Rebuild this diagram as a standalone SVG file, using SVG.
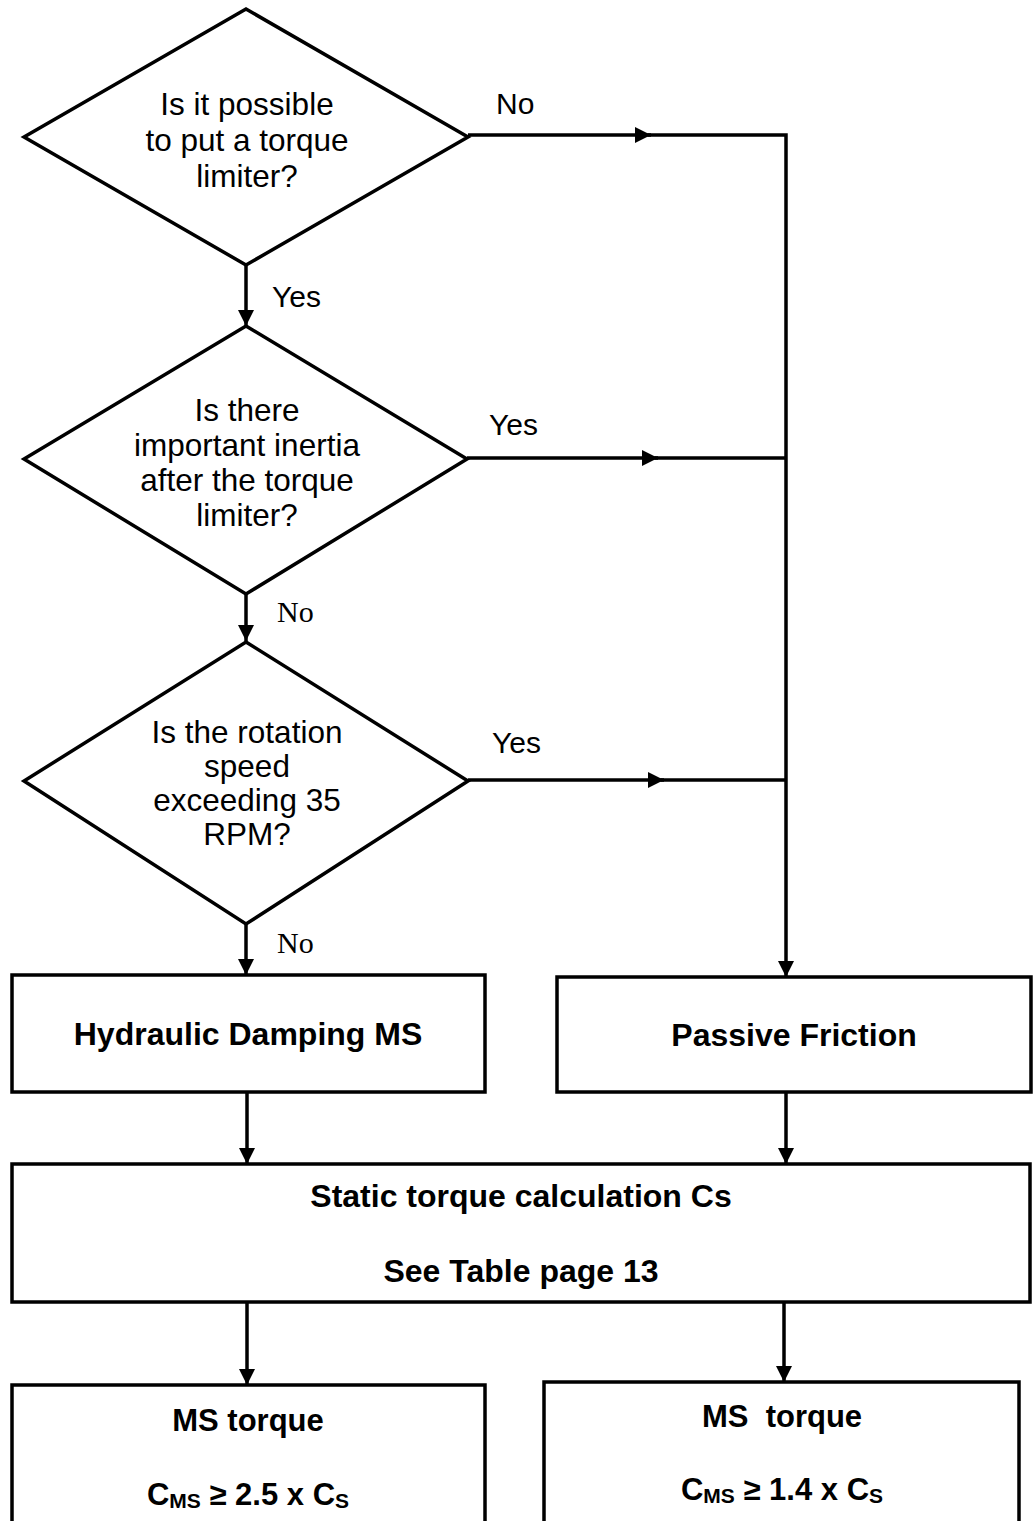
<svg xmlns="http://www.w3.org/2000/svg" width="1033" height="1521" viewBox="0 0 1033 1521">
<style>
.shape{fill:#fff;stroke:#000;stroke-width:3.5;stroke-linejoin:miter}
.conn{fill:none;stroke:#000;stroke-width:3.5}
.q{font-family:"Liberation Sans",Arial,sans-serif;font-size:31.5px;text-anchor:middle;fill:#000}
.lbl{font-family:"Liberation Sans",Arial,sans-serif;font-size:30px;fill:#000}
.lbls{font-family:"Liberation Serif","Times New Roman",serif;font-size:30px;fill:#000}
.b{font-family:"Liberation Sans",Arial,sans-serif;font-size:32px;font-weight:bold;text-anchor:middle;fill:#000}
.b2{font-family:"Liberation Sans",Arial,sans-serif;font-size:31px;font-weight:bold;text-anchor:middle;fill:#000}
.sub{font-size:21px}
</style>
<defs>
<marker id="arr" markerUnits="userSpaceOnUse" markerWidth="16" markerHeight="16" viewBox="0 0 16 16" refX="16" refY="8" orient="auto">
<path d="M0,0 L16,8 L0,16 z" fill="#000"/>
</marker>
</defs>
<rect width="1033" height="1521" fill="#fff"/>

<g id="connectors">
<path class="conn" d="M246,265 V326" marker-end="url(#arr)"/>
<path class="conn" d="M246,594 V641" marker-end="url(#arr)"/>
<path class="conn" d="M246,924 V975" marker-end="url(#arr)"/>
<path class="conn" d="M468,135 H651" marker-end="url(#arr)"/>
<path class="conn" d="M648,135 H786 V977" marker-end="url(#arr)"/>
<path class="conn" d="M467,458 H658" marker-end="url(#arr)"/>
<path class="conn" d="M655,458 H786"/>
<path class="conn" d="M468,780 H664" marker-end="url(#arr)"/>
<path class="conn" d="M661,780 H786"/>
<path class="conn" d="M247,1092 V1164" marker-end="url(#arr)"/>
<path class="conn" d="M786,1092 V1164" marker-end="url(#arr)"/>
<path class="conn" d="M247,1302 V1385" marker-end="url(#arr)"/>
<path class="conn" d="M784,1302 V1382" marker-end="url(#arr)"/>
<text class="lbl" x="496" y="114">No</text>
<text class="lbl" x="272" y="307">Yes</text>
<text class="lbl" x="489" y="435">Yes</text>
<text class="lbls" x="277" y="622">No</text>
<text class="lbl" x="492" y="753">Yes</text>
<text class="lbls" x="277" y="953">No</text>
</g>

<g id="d1">
<polygon class="shape" points="246,9 468,137 246,265 24,137"/>
<text class="q" x="247"><tspan x="247" y="115">Is it possible</tspan><tspan x="247" y="151">to put a torque</tspan><tspan x="247" y="187">limiter?</tspan></text>
</g>

<g id="d2">
<polygon class="shape" points="246,326 467,459 246,594 24,459"/>
<text class="q" x="247"><tspan x="247" y="421">Is there</tspan><tspan x="247" y="456">important inertia</tspan><tspan x="247" y="491">after the torque</tspan><tspan x="247" y="526">limiter?</tspan></text>
</g>

<g id="d3">
<polygon class="shape" points="246,642 468,781 246,924 24,781"/>
<text class="q" x="247"><tspan x="247" y="743">Is the rotation</tspan><tspan x="247" y="777">speed</tspan><tspan x="247" y="811">exceeding 35</tspan><tspan x="247" y="845">RPM?</tspan></text>
</g>

<g id="hydraulic">
<rect class="shape" x="12" y="975" width="473" height="117"/>
<text class="b" x="248" y="1045">Hydraulic Damping MS</text>
</g>

<g id="passive">
<rect class="shape" x="557" y="977" width="474" height="115"/>
<text class="b" x="794" y="1046">Passive Friction</text>
</g>

<g id="static">
<rect class="shape" x="12" y="1164" width="1018" height="138"/>
<text class="b" x="521" y="1207">Static torque calculation Cs</text>
<text class="b" x="521" y="1282">See Table page 13</text>
</g>

<g id="ms-left">
<rect class="shape" x="12" y="1385" width="473" height="170"/>
<text class="b2" x="248" y="1431">MS torque</text>
<text class="b2" x="248" y="1505">C<tspan class="sub" dy="3">MS</tspan><tspan dy="-3"> ≥ 2.5 x C</tspan><tspan class="sub" dy="3">S</tspan></text>
</g>

<g id="ms-right">
<rect class="shape" x="544" y="1382" width="475" height="170"/>
<text class="b2" x="782" y="1427" xml:space="preserve">MS  torque</text>
<text class="b2" x="782" y="1500">C<tspan class="sub" dy="3">MS</tspan><tspan dy="-3"> ≥ 1.4 x C</tspan><tspan class="sub" dy="3">S</tspan></text>
</g>
</svg>
